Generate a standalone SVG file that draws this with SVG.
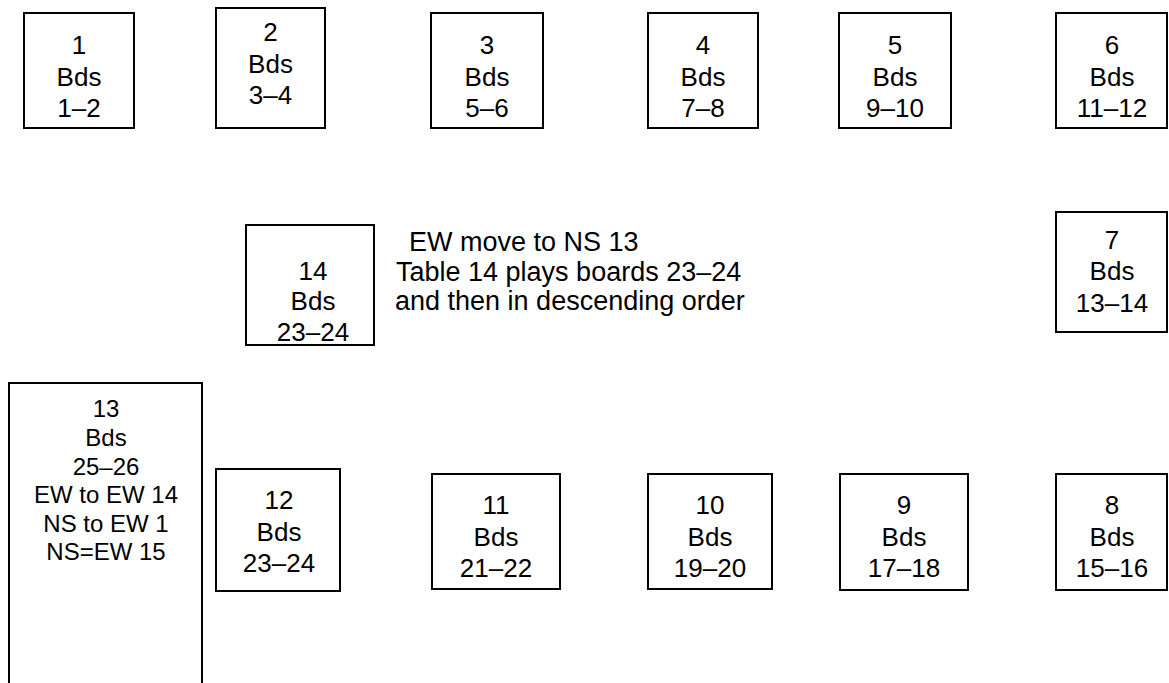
<svg xmlns="http://www.w3.org/2000/svg" width="1169" height="683" viewBox="0 0 1169 683">
<style>
rect.b{fill:#fff;stroke:#000;stroke-width:2}
text{font-family:"Liberation Sans",Arial,sans-serif;font-size:26px;fill:#000;text-anchor:middle}
text.s{font-size:24px}
text.n{text-anchor:start;font-size:27px}
</style>
<rect width="1169" height="683" fill="#fff"/>
<g id="t1"><rect class="b" x="24" y="13" width="110" height="115"/><text x="79" y="54">1</text><text x="79" y="86">Bds</text><text x="79" y="117">1–2</text></g>
<g id="t2"><rect class="b" x="216" y="8" width="109" height="120"/><text x="270.5" y="41">2</text><text x="270.5" y="73">Bds</text><text x="270.5" y="104">3–4</text></g>
<g id="t3"><rect class="b" x="431" y="13" width="112" height="115"/><text x="487" y="54">3</text><text x="487" y="86">Bds</text><text x="487" y="117">5–6</text></g>
<g id="t4"><rect class="b" x="648" y="13" width="110" height="115"/><text x="703" y="54">4</text><text x="703" y="86">Bds</text><text x="703" y="117">7–8</text></g>
<g id="t5"><rect class="b" x="839" y="13" width="112" height="115"/><text x="895" y="54">5</text><text x="895" y="86">Bds</text><text x="895" y="117">9–10</text></g>
<g id="t6"><rect class="b" x="1056" y="13" width="111" height="115"/><text x="1112" y="54">6</text><text x="1112" y="86">Bds</text><text x="1112" y="117">11–12</text></g>
<g id="t7"><rect class="b" x="1056" y="212" width="111" height="120"/><text x="1112" y="249">7</text><text x="1112" y="280">Bds</text><text x="1112" y="312">13–14</text></g>
<g id="t14"><rect class="b" x="246" y="225" width="128" height="120"/><text x="313" y="280">14</text><text x="313" y="310">Bds</text><text x="313" y="341">23–24</text></g>
<g id="note"><text class="n" x="409" y="251">EW move to NS 13</text><text class="n" x="396" y="281">Table 14 plays boards 23–24</text><text class="n" x="395" y="310">and then in descending order</text></g>
<g id="t13"><rect class="b" x="9" y="383" width="193" height="320"/><text class="s" x="106" y="417">13</text><text class="s" x="106" y="446">Bds</text><text class="s" x="106" y="475">25–26</text><text class="s" x="106" y="503">EW to EW 14</text><text class="s" x="106" y="532">NS to EW 1</text><text class="s" x="106" y="560">NS=EW 15</text></g>
<g id="t12"><rect class="b" x="216" y="469" width="124" height="122"/><text x="279" y="509">12</text><text x="279" y="541">Bds</text><text x="279" y="572">23–24</text></g>
<g id="t11"><rect class="b" x="432" y="474" width="128" height="115"/><text x="496" y="514">11</text><text x="496" y="546">Bds</text><text x="496" y="577">21–22</text></g>
<g id="t10"><rect class="b" x="648" y="474" width="124" height="115"/><text x="710" y="514">10</text><text x="710" y="546">Bds</text><text x="710" y="577">19–20</text></g>
<g id="t9"><rect class="b" x="840" y="474" width="128" height="116"/><text x="904" y="514">9</text><text x="904" y="546">Bds</text><text x="904" y="577">17–18</text></g>
<g id="t8"><rect class="b" x="1056" y="474" width="111" height="116"/><text x="1112" y="514">8</text><text x="1112" y="546">Bds</text><text x="1112" y="577">15–16</text></g>
<g id="connectors"></g>
</svg>
